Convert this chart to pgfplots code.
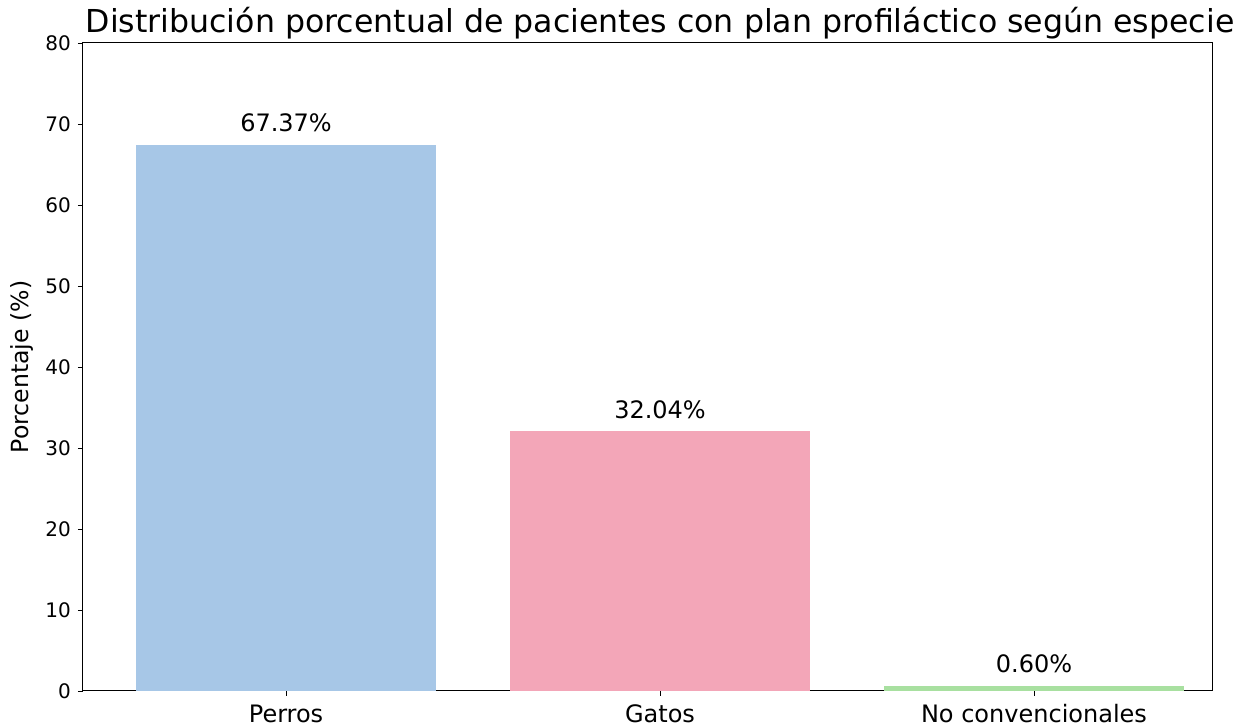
\documentclass[border=0pt]{standalone}
\usepackage{fontspec}
\setmainfont{DejaVu Sans}
\usepackage{pgfplots}
\pgfplotsset{compat=1.18}
\definecolor{cblue}{RGB}{167,199,231}
\definecolor{cpink}{RGB}{243,166,184}
\definecolor{cgreen}{RGB}{168,224,160}
\begin{document}
\begin{tikzpicture}
\begin{axis}[
  at={(0,0)}, anchor=south west,
  width=564.5pt, height=324pt, scale only axis,
  xmin=-0.543, xmax=2.476, ymin=0, ymax=80,
  ytick={0,10,...,80},
  xtick={0,1,2}, xticklabels={Perros,Gatos,No convencionales},
  tick align=outside, tick pos=lower, major tick length=2.5pt,
  tick style={black, line width=0.4pt},
  axis line style={line width=0.5pt},
  /pgf/number format/assume math mode=true,
  yticklabel style={font=\fontsize{10}{12}\selectfont},
  xticklabel style={font=\fontsize{12}{14}\selectfont, anchor=base, yshift=-13.5pt},
  ylabel={Porcentaje (\%)},
  ylabel style={font=\fontsize{11.8}{14}\selectfont, at={(axis description cs:-0.0485,0.5)}, anchor=base},
  title={Distribución porcentual de pacientes con plan profiláctico según especie},
  title style={font=\fontsize{15.8}{18}\selectfont, at={(axis description cs:0.5,1)}, anchor=base, yshift=-0.85pt, xshift=6.25pt},
  ybar, bar width=0.8, bar shift=0pt,
  nodes near coords={\pgfmathprintnumber[fixed,fixed zerofill,precision=2]{\pgfplotspointmeta}\%},
  every node near coord/.append style={font=\fontsize{12}{14}\selectfont, black, anchor=base, yshift=6.7pt},
]
\addplot[fill=cblue, draw=none] coordinates {(0,67.37)};
\addplot[fill=cpink, draw=none] coordinates {(1,32.04)};
\addplot[fill=cgreen, draw=none] coordinates {(2,0.60)};
\end{axis}
\pgfresetboundingbox
\path[use as bounding box] (-41.5pt,-18pt) rectangle (579.5pt,345.5pt);
\end{tikzpicture}
\end{document}
